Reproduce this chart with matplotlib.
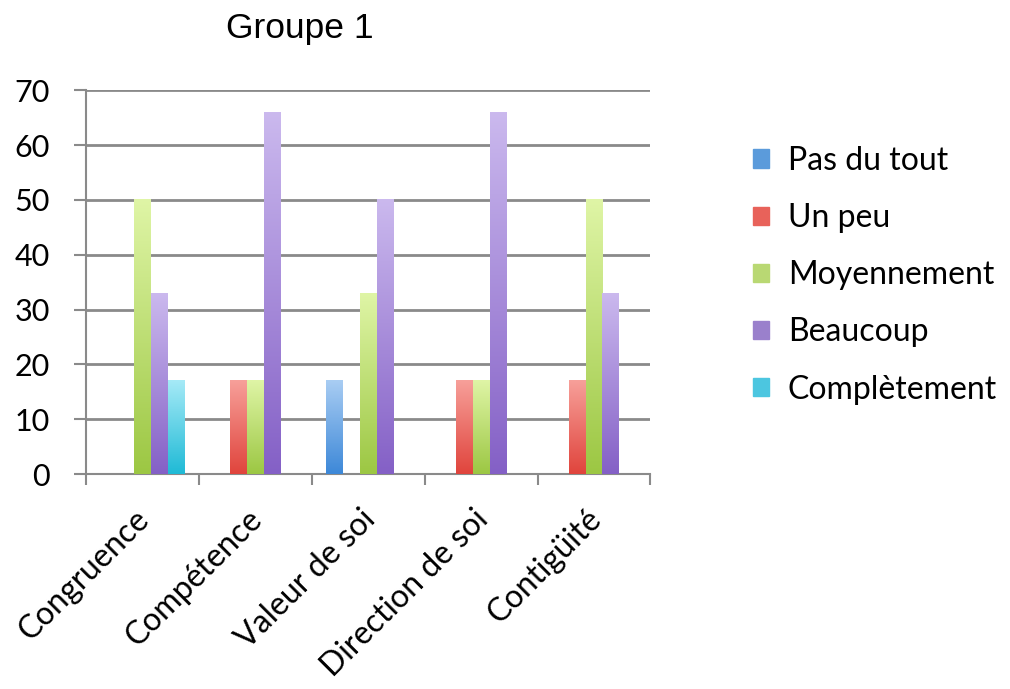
import numpy as np
import matplotlib.pyplot as plt
import matplotlib.transforms as mtransforms
from matplotlib.colors import LinearSegmentedColormap

# ==== données ====
categories = ["Congruence", "Compétence", "Valeur de soi", "Direction de soi", "Contigüité"]
series_names = ["Pas du tout", "Un peu", "Moyennement", "Beaucoup", "Complètement"]
pas_du_tout = [0, 0, 17, 0, 0]
un_peu = [0, 17, 0, 17, 17]
moyennement = [50, 17, 33, 17, 50]
beaucoup = [33, 66, 50, 66, 33]
completement = [17, 0, 0, 0, 0]
series_values = [pas_du_tout, un_peu, moyennement, beaucoup, completement]

# couleurs (clair en haut, foncé en bas)
colors_top = ["#a9cdf3", "#f7a09a", "#dff5a6", "#cbb9ee", "#a6eaf7"]
colors_bottom = ["#3d88d8", "#e0443c", "#9cc743", "#8460c6", "#1fbad6"]
legend_colors = ["#5b9bdb", "#e8625a", "#b9d873", "#9a80cc", "#4cc6e0"]

plt.rcParams['font.family'] = ['Lato', 'DejaVu Sans']

fig = plt.figure(figsize=(10.1, 6.89), dpi=100)
ax = fig.add_axes([0.085, 0.312, 0.559, 0.557])

x = np.arange(len(categories))
n = len(series_names)
width = 0.15
grad = np.linspace(1, 0, 256).reshape(-1, 1)

for i, (name, vals) in enumerate(zip(series_names, series_values)):
    offs = (i - (n - 1) / 2) * width
    bars = ax.bar(x + offs, vals, width, color=legend_colors[i], label=name, zorder=3)
    cmap = LinearSegmentedColormap.from_list(name, [colors_bottom[i], colors_top[i]])
    for b in bars:
        h = b.get_height()
        if h <= 0:
            continue
        b.set_alpha(0)
        x0 = b.get_x()
        ax.imshow(grad, cmap=cmap, aspect='auto', zorder=3,
                  extent=(x0, x0 + b.get_width(), 0, h), vmin=0, vmax=1)

ax.set_xlim(-0.5, len(categories) - 0.5)
ax.set_ylim(0, 70)
ax.set_yticks(np.arange(0, 71, 10))
ax.yaxis.grid(True, color="#8a8a8a", linewidth=2, zorder=0)
ax.set_axisbelow(True)

for s in ["top", "right"]:
    ax.spines[s].set_visible(False)
for s in ["left", "bottom"]:
    ax.spines[s].set_color("#8a8a8a")
    ax.spines[s].set_linewidth(1.5)

ax.set_xticks(x)
ax.set_xticklabels(categories, rotation=45, ha="right", rotation_mode="anchor", fontsize=23)
ax.set_xticks(np.arange(-0.5, len(categories), 1), minor=True)
ax.tick_params(axis="x", which="major", length=0, pad=16)
ax.tick_params(axis="x", which="minor", length=8, width=1.5, color="#8a8a8a", direction="out")
ax.tick_params(axis="y", length=9, width=1.5, color="#8a8a8a", labelsize=22, pad=17)

# petit décalage des étiquettes vers le bas-gauche
shift = mtransforms.ScaledTranslation(-8 / 100, -8 / 100, fig.dpi_scale_trans)
for lbl in ax.get_xticklabels():
    lbl.set_transform(lbl.get_transform() + shift)

fig.text(0.297, 0.958, "Groupe 1", fontsize=25.5, family="Liberation Sans", ha="center", va="center")

leg = ax.legend(loc="center left", bbox_to_anchor=(1.13, 0.518), frameon=False,
                fontsize=23, handlelength=0.5, handleheight=0.5, labelspacing=0.85,
                handletextpad=0.6)
for h, c in zip(leg.legend_handles, legend_colors):
    h.set_alpha(1)
    h.set_color(c)

fig.savefig("out.png", dpi=100)
